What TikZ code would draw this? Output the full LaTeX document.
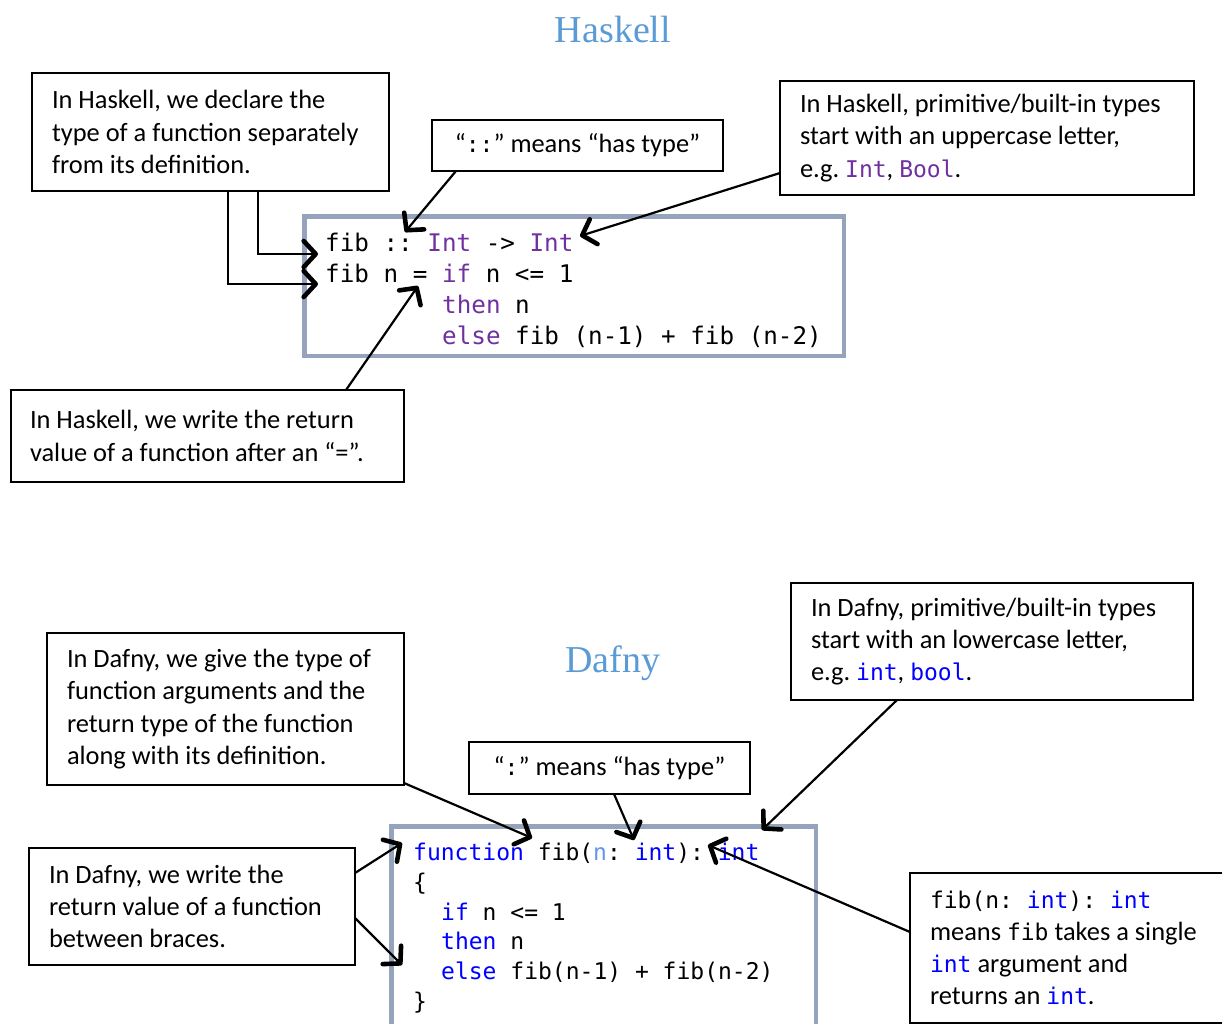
\documentclass[tikz,border=0pt]{standalone}
\usepackage{fontspec}
\setmainfont{Carlito}
\newfontfamily\codefont{DejaVu Sans Mono}
\newfontfamily\titlefont{Liberation Serif}
\usetikzlibrary{arrows.meta}
\definecolor{hsk}{HTML}{7030A0}
\definecolor{dfk}{HTML}{0000FF}
\definecolor{dfn}{HTML}{6495ED}
\definecolor{ttl}{HTML}{5B9BD5}
\definecolor{cbox}{RGB}{149,163,188}
\newcommand\hk[1]{\textcolor{hsk}{#1}}
\newcommand\dk[1]{\textcolor{dfk}{#1}}
\newcommand\dn[1]{\textcolor{dfn}{#1}}
\newcommand\ic[1]{{\codefont\fontsize{23}{32.2}\selectfont #1}}
\tikzset{
  callout/.style={draw, line width=1.8pt, anchor=north west, outer sep=0pt,
    inner xsep=20pt, inner ysep=0pt, align=flush left,
    font=\fontsize{26.4}{32.2}\selectfont},
  codebox/.style={draw=cbox, line width=4.5pt, anchor=north west,
    inner sep=0pt, outer sep=0pt},
  hcode/.style={anchor=base west, inner sep=0pt,
    font=\codefont\fontsize{24.25}{31}\selectfont},
  dcode/.style={anchor=base west, inner sep=0pt,
    font=\codefont\fontsize{23}{30}\selectfont},
  arr/.style={line width=2.2pt,
    -{Straight Barb[length=12pt,width=26pt,line width=4.6pt,round]}},
  title/.style={text=ttl, font=\titlefont\fontsize{38}{44}\selectfont}
}
\begin{document}
\frenchspacing
\begin{tikzpicture}[x=1pt,y=-1pt]
\useasboundingbox (0,0) rectangle (1222,1023);
\clip (0,0) rectangle (1222,1023);

% titles
\node[title] (T1) at (613,30) {Haskell};
\node[title] (T2) at (613,663) {Dafny};

% code boxes
\node[codebox, minimum width=539.5pt, minimum height=139.5pt] (HB) at (304.25,216.25) {};
\node[codebox, minimum width=424.5pt, minimum height=230pt] (DB) at (391.25,826.25) {};

% Haskell code
\node[hcode] (hk1) at (325,251) {fib :: \hk{Int} -> \hk{Int}};
\node[hcode] (hk2) at (325,282) {fib n = \hk{if} n <= 1};
\node[hcode] (hk3) at (442,313) {\hk{then} n};
\node[hcode] (hk4) at (442,344) {\hk{else} fib (n-1) + fib (n-2)};

% Dafny code
\node[dcode] (df1) at (413,860) {\dk{function} fib(\dn{n}: \dk{int}): \dk{int}};
\node[dcode] (df2) at (413,890) {\{};
\node[dcode] (df3) at (441,920) {\dk{if} n <= 1};
\node[dcode] (df4) at (441,949) {\dk{then} n};
\node[dcode] (df5) at (441,979) {\dk{else} fib(n-1) + fib(n-2)};
\node[dcode] (df6) at (413,1009) {\}};

% callouts
\node[callout, text width=317pt, minimum height=118pt] (A) at (32,73)
  {In Haskell, we declare the\\type of a function separately\\from its definition.};
\node[callout, align=flush center, text width=251pt, minimum height=51pt] (B) at (432,120)
  {“\ic{::}” means “has type”};
\node[callout, text width=374pt, minimum height=114pt] (C) at (780,81)
  {In Haskell, primitive/built-in types\\start with an uppercase letter,\\e.g. \ic{\hk{Int}}, \ic{\hk{Bool}}.};
\node[callout, inner xsep=19pt, text width=355pt, minimum height=92pt] (D) at (11,390)
  {In Haskell, we write the return\\value of a function after an “=”.};
\node[callout, text width=317pt, minimum height=152pt] (E) at (47,633)
  {In Dafny, we give the type of\\function arguments and the\\return type of the function\\along with its definition.};
\node[callout, align=flush center, text width=241pt, minimum height=52pt] (F) at (469,742)
  {“\ic{:}” means “has type”};
\node[callout, text width=362pt, minimum height=117pt] (G) at (791,583)
  {In Dafny, primitive/built-in types\\start with an lowercase letter,\\e.g. \ic{\dk{int}}, \ic{\dk{bool}}.};
\node[callout, text width=286pt, minimum height=117pt] (H) at (29,848)
  {In Dafny, we write the\\return value of a function\\between braces.};
\node[callout, text width=290pt, minimum height=150pt] (I) at (910,873)
  {\ic{fib(n: \dk{int}): \dk{int}}\\means \ic{fib} takes a single\\\ic{\dk{int}} argument and\\returns an \ic{\dk{int}}.};

% arrow targets
\coordinate (tA1) at (318,254);
\coordinate (tA2) at (318,284);
\coordinate (tB) at (405,232);
\coordinate (tC) at (580,236);
\coordinate (tD) at (418,286);
\coordinate (tE) at (532,838);
\coordinate (tF) at (634,840);
\coordinate (tG) at (762,830);
\coordinate (tI) at (708,845);
\coordinate (tH1) at (402,843);
\coordinate (tH2) at (402,965);

% arrows
\draw[arr] ([xshift=-22.5pt]A.south) -- ([xshift=47.5pt]A.south) |- (tA1);
\draw[arr] ([xshift=-22.5pt]A.south) -- ([xshift=17.5pt]A.south) |- (tA2);
\draw[arr] ([xshift=24pt]B.south west) -- (tB);
\draw[arr] ([yshift=22pt]C.south west) -- (tC);
\draw[arr] ([xshift=335pt]D.north west) -- (tD);
\draw[arr] ([yshift=2pt]E.south east) -- (tE);
\draw[arr] ([xshift=4.5pt]F.south) -- (tF);
\draw[arr] ([xshift=106pt]G.south west) -- (tG);
\draw[arr] ([yshift=-59pt]I.north west) -- (tI);
\draw[arr] ([yshift=-25pt]H.north east) -- (tH1);
\draw[arr] ([yshift=-70pt]H.north east) -- (tH2);
\end{tikzpicture}
\end{document}
